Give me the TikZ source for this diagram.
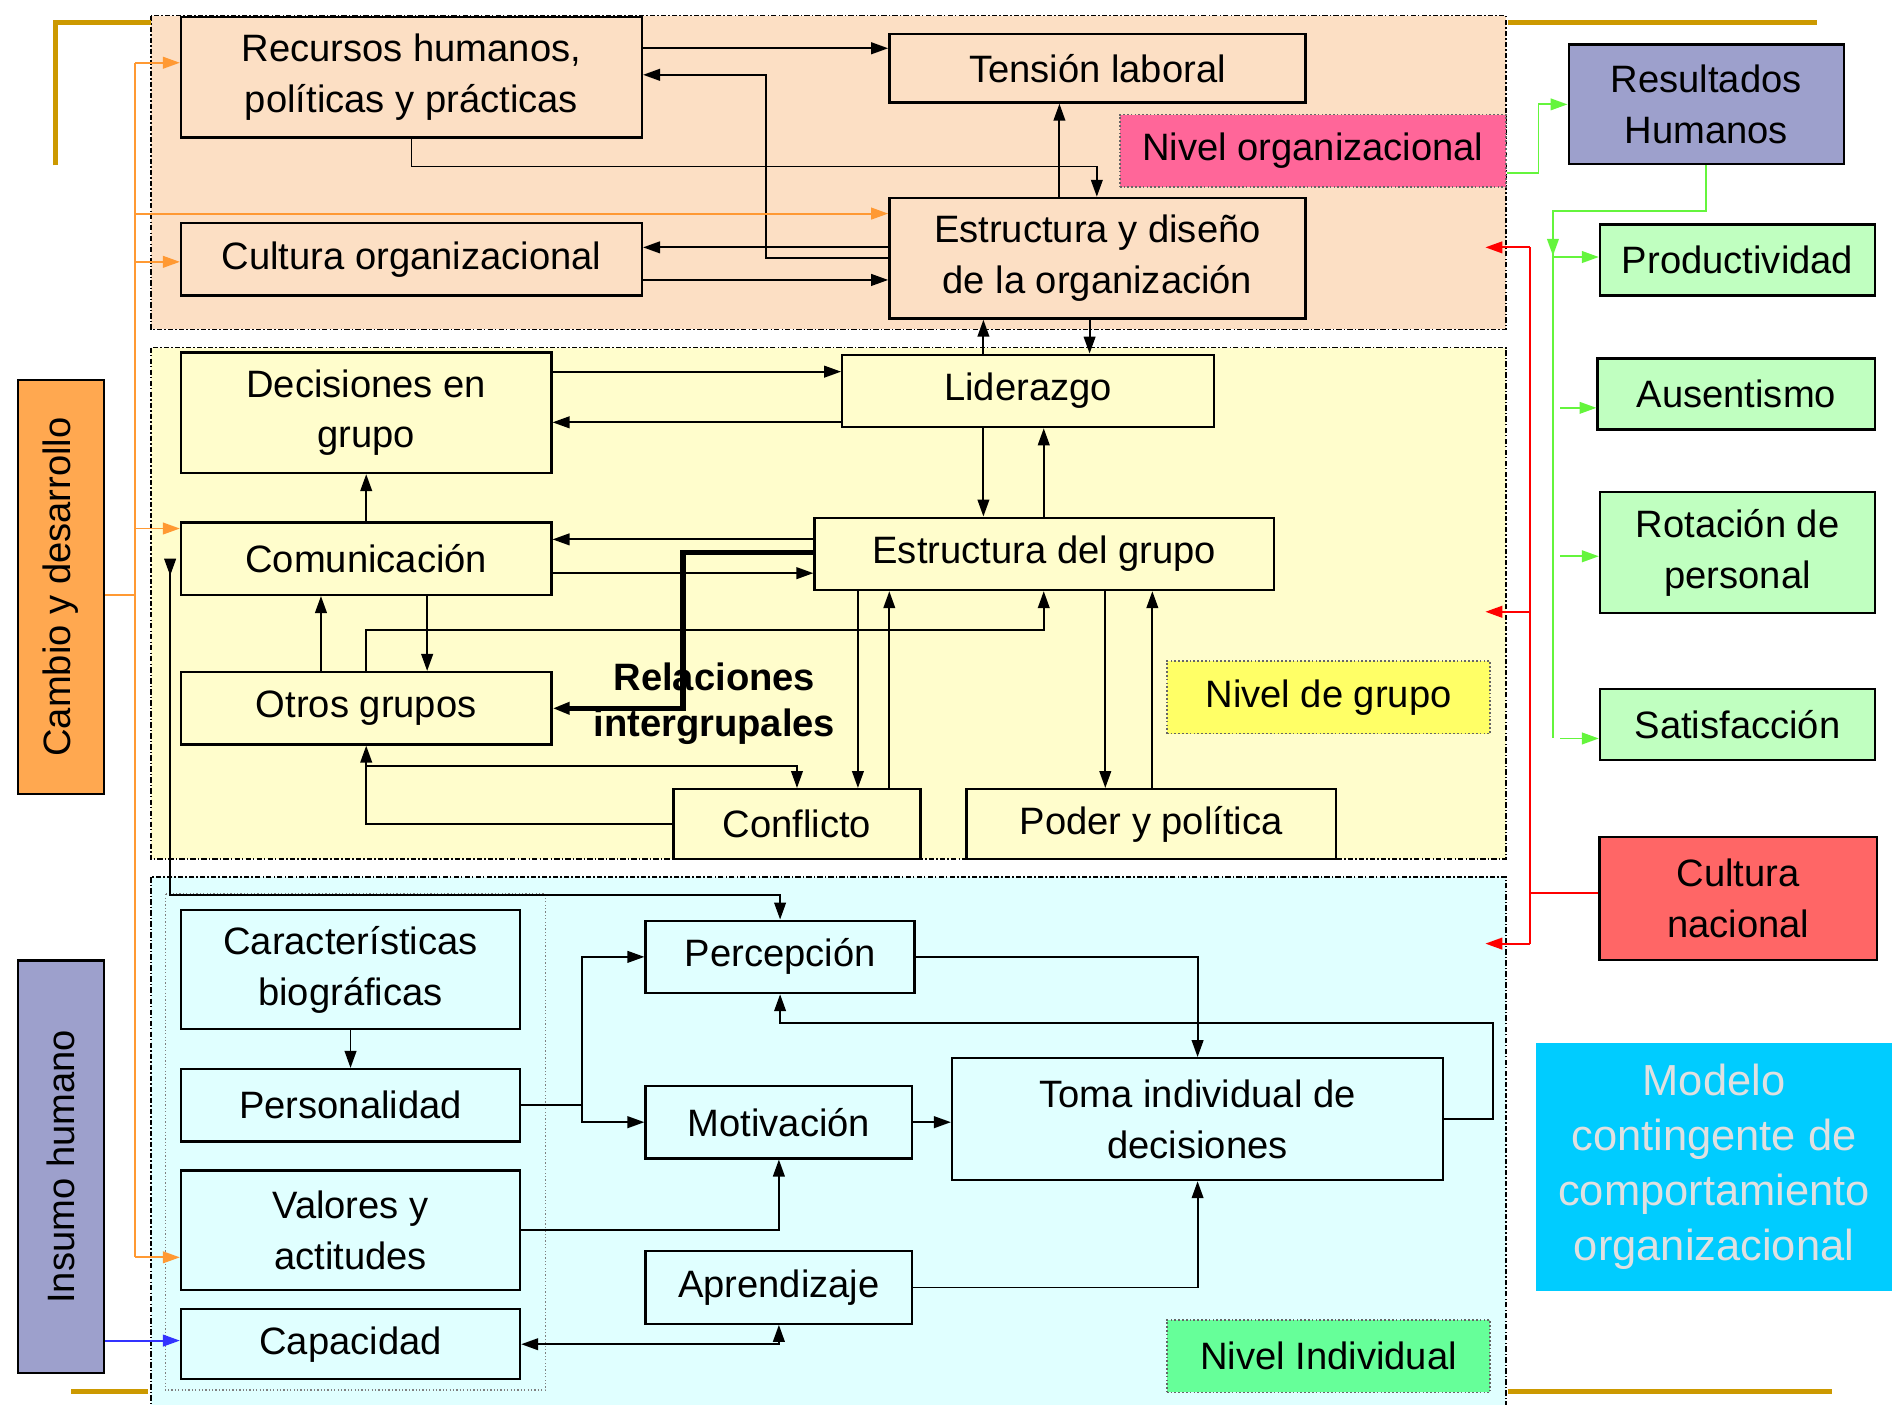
\documentclass[tikz,border=0pt]{standalone}
\usepackage{fontspec}
\setmainfont{Liberation Sans}
\usetikzlibrary{arrows.meta}
\definecolor{orgfill}{RGB}{252,223,196}
\definecolor{grpfill}{RGB}{255,253,204}
\definecolor{indfill}{RGB}{224,255,255}
\definecolor{pinkfill}{RGB}{255,102,153}
\definecolor{yelfill}{RGB}{255,255,102}
\definecolor{grnfill}{RGB}{102,255,153}
\definecolor{lavfill}{RGB}{157,160,204}
\definecolor{orafill}{RGB}{255,168,80}
\definecolor{resfill}{RGB}{192,255,192}
\definecolor{redfill}{RGB}{255,102,102}
\definecolor{cyanfill}{RGB}{0,204,255}
\definecolor{oraline}{RGB}{255,153,51}
\definecolor{grnline}{RGB}{100,245,60}
\definecolor{goldline}{RGB}{204,153,0}

\begin{document}
\begin{tikzpicture}[x=0.02cm,y=-0.02cm,->,>={Triangle[length=8pt,width=5.5pt]},line width=0.9pt]
  \tikzstyle{box}=[draw,line width=1.1pt,inner sep=2pt,align=center,font=\fontsize{18}{24}\selectfont]
  \tikzstyle{orgbox}=[box,fill=orgfill]
  \tikzstyle{grpbox}=[box,fill=grpfill]
  \tikzstyle{indbox}=[box,fill=indfill]
  \tikzstyle{resbox}=[box,fill=resfill]
  \tikzstyle{levelbox}=[draw=black!60,densely dotted,line width=0.8pt,font=\fontsize{18}{24}\selectfont,minimum width=5.36cm,minimum height=1.2cm]
  \tikzstyle{region}=[-,draw=black,line width=0.7pt,dash pattern=on 2.5pt off 1pt on 0.7pt off 1pt]
  \tikzstyle{orange line}=[draw=oraline,line width=0.9pt]
  \tikzstyle{green line}=[draw=grnline,line width=0.9pt]
  \tikzstyle{red line}=[draw=red,line width=0.9pt]
  \tikzstyle{gold line}=[-,draw=goldline,line width=2.4pt]
  \useasboundingbox (0,0) rectangle (1568,1164);

  % levels
  \filldraw[region,fill=orgfill] (125,13) rectangle (1248,273);
  \filldraw[region,fill=grpfill] (125,288) rectangle (1248,712);
  \filldraw[region,fill=indfill] (125,727) rectangle (1248,1166);
  \draw[-,gray,densely dotted,line width=0.6pt] (137,741) rectangle (452,1152);

  \draw[gold line] (46,137) |- (125,19);
  \draw[gold line] (1250,19) -- (1506,19);
  \draw[gold line] (59,1153) -- (123,1153);
  \draw[gold line] (1250,1153) -- (1518,1153);

  % organizacional
  \node[orgbox,minimum width=7.64cm,minimum height=2cm] (O_1) at (341,64) {Recursos humanos,\\políticas y prácticas};
  \node[orgbox,minimum width=6.9cm,minimum height=1.14cm] (O_2) at (909.5,56.5) {Tensión laboral};
  \node[levelbox,fill=pinkfill,minimum width=6.4cm] (O_3) at (1088,125) {Nivel organizacional};
  \node[orgbox,minimum width=7.64cm,minimum height=1.2cm] (O_4) at (341,215) {Cultura organizacional};
  \node[orgbox,minimum width=6.9cm,minimum height=2cm] (O_5) at (909.5,214) {Estructura y diseño\\de la organización};

  % grupo
  \node[grpbox,minimum width=6.14cm,minimum height=2cm] (G_1) at (303.5,342) {Decisiones en\\grupo};
  \node[grpbox,minimum width=6.16cm,minimum height=1.2cm] (G_2) at (852,324) {Liderazgo};
  \node[grpbox,minimum width=6.14cm,minimum height=1.2cm] (G_3) at (303.5,463) {Comunicación};
  \node[grpbox,minimum width=7.62cm,minimum height=1.2cm] (G_4) at (865.5,459) {Estructura del grupo};
  \node[grpbox,minimum width=6.14cm,minimum height=1.2cm] (G_5) at (303.5,587) {Otros grupos};
  \node[grpbox,minimum width=4.1cm,minimum height=1.16cm] (G_6) at (660.5,683) {Conflicto};
  \node[grpbox,minimum width=6.12cm,minimum height=1.16cm] (G_7) at (954,683) {Poder y política};
  \node[levelbox,fill=yelfill] (G_8) at (1101,578) {Nivel de grupo};

  % individual
  \node[indbox,minimum width=5.62cm,minimum height=1.98cm] (I_1) at (290.5,803.5) {Características\\biográficas};
  \node[indbox,minimum width=5.62cm,minimum height=1.2cm] (I_2) at (290.5,916) {Personalidad};
  \node[indbox,minimum width=5.62cm,minimum height=1.98cm] (I_3) at (290.5,1019.5) {Valores y\\actitudes};
  \node[indbox,minimum width=5.62cm,minimum height=1.16cm] (I_4) at (290.5,1114) {Capacidad};
  \node[indbox,minimum width=4.46cm,minimum height=1.2cm] (I_5) at (646.5,793) {Percepción};
  \node[indbox,minimum width=4.42cm,minimum height=1.2cm] (I_6) at (645.5,930) {Motivación};
  \node[indbox,minimum width=4.42cm,minimum height=1.2cm] (I_7) at (645.5,1067) {Aprendizaje};
  \node[indbox,minimum width=8.14cm,minimum height=2.02cm] (I_8) at (992.5,927.5) {Toma individual de\\decisiones};
  \node[levelbox,fill=grnfill] (I_9) at (1101,1124) {Nivel Individual};

  % lados
  \node[box,fill=orafill,minimum width=1.42cm,minimum height=6.86cm] (L_1) at (50.5,486.5) {\rotatebox{90}{Cambio y desarrollo}};
  \node[box,fill=lavfill,minimum width=1.42cm,minimum height=6.84cm] (L_2) at (50.5,967) {\rotatebox{90}{Insumo humano}};
  \node[box,fill=lavfill,minimum width=4.56cm,minimum height=1.98cm] (R_1) at (1414,86.5) {Resultados\\Humanos};
  \node[resbox,minimum width=4.56cm,minimum height=1.18cm] (R_2) at (1440,215.5) {Productividad};
  \node[resbox,minimum width=4.6cm,minimum height=1.18cm] (R_3) at (1439,326.5) {Ausentismo};
  \node[resbox,minimum width=4.56cm,minimum height=2cm] (R_4) at (1440,458) {Rotación de\\personal};
  \node[resbox,minimum width=4.56cm,minimum height=1.18cm] (R_5) at (1440,600.5) {Satisfacción};
  \node[box,fill=redfill,minimum width=4.6cm,minimum height=2.04cm] (R_6) at (1440.5,744.5) {Cultura\\nacional};
  \node[fill=cyanfill,text=white!88!black,align=center,minimum width=5.9cm,minimum height=4.12cm,font=\fontsize{20.5}{26}\selectfont] (R_7) at (1420.5,967) {Modelo\\contingente de\\comportamiento\\organizacional};

  % conexiones organizacional
  \draw (O_1.east |- 0,40) -- (O_2.west |- 0,40);
  \draw (O_5.west |- 0,214) -| (635,62) -- (O_1.east |- 0,62);
  \draw (O_1.south) |- (909,138) -- (O_5.north -| 909,0);
  \draw (O_5.north -| 878,0) -- (O_2.south -| 878,0);
  \draw (O_5.west |- 0,205) -- (O_4.east |- 0,205);
  \draw (O_4.east |- 0,232) -- (O_5.west |- 0,232);

  % cambio y desarrollo
  \draw[orange line,-] (112,52) -- (112,1042);
  \draw[orange line,-] (L_1.east |- 0,493) -- (112,493);
  \draw[orange line] (112,52) -- (O_1.west |- 0,52);
  \draw[orange line] (112,177) -- (O_5.west |- 0,177);
  \draw[orange line] (112,217) -- (O_4.west |- 0,217);
  \draw[orange line] (112,438) -- (G_3.west |- 0,438);
  \draw[orange line] (112,1042) -- (I_3.west |- 0,1042);
  \draw[draw=blue!80,line width=0.9pt] (L_2.east |- 0,1111) -- (I_4.west |- 0,1111);

  % conexiones grupo
  \draw (O_5.south -| 903,0) -- (G_2.north -| 903,0);
  \draw (G_2.north -| 815,0) -- (O_5.south -| 815,0);
  \draw (G_1.east |- 0,308) -- (G_2.west |- 0,308);
  \draw (G_2.west |- 0,350) -- (G_1.east |- 0,350);
  \draw (G_3.north) -- (G_1.south);
  \draw (G_2.south -| 815,0) -- (G_4.north -| 815,0);
  \draw (G_4.north -| 865,0) -- (G_2.south -| 865,0);
  \draw (G_4.west |- 0,447) -- (G_3.east |- 0,447);
  \draw (G_3.east |- 0,475) -- (G_4.west |- 0,475);
  \draw[line width=2.4pt] (G_4.west |- 0,458) -| (566,587) -- (G_5.east |- 0,587);
  \node[font=\bfseries\fontsize{18}{21.5}\selectfont,align=center] (G_9) at (592,583) {Relaciones\\intergrupales};
  \draw (G_5.north -| 266,0) -- (G_3.south -| 266,0);
  \draw (G_3.south -| 354,0) -- (G_5.north -| 354,0);
  \draw (G_5.north) |- (865,522) -- (G_4.south -| 865,0);
  \draw (G_6.west) -| (G_5.south);
  \draw (G_5.south |- 0,635) -| (G_6.north);
  \draw (G_4.south -| 711,0) -- (G_6.north -| 711,0);
  \draw (G_6.north -| 737,0) -- (G_4.south -| 737,0);
  \draw (G_4.south -| 916,0) -- (G_7.north -| 916,0);
  \draw (G_7.north -| 955,0) -- (G_4.south -| 955,0);
  \draw[{Triangle[length=8pt,width=5.5pt,reversed]}-{Triangle[length=8pt,width=5.5pt]}] (141,463) |- (646.5,742) -- (I_5.north);

  % conexiones individual
  \coordinate (I_b) at (482,916);
  \draw (I_1.south) -- (I_2.north);
  \draw[-] (I_2.east) -- (I_b);
  \draw (I_b) |- (I_5.west);
  \draw (I_b) |- (I_6.west);
  \draw (I_3.east) -| (I_6.south);
  \draw[<->] (I_4.east) -| (I_7.south);
  \draw (I_5.east) -| (I_8.north);
  \draw (I_8.east) -| (1237,848) -| (I_5.south);
  \draw (I_6.east) -- (I_8.west |- I_6.east);
  \draw (I_7.east) -| (I_8.south);

  % resultados
  \draw[green line] (O_3.east |- 0,143) -| (1275,86.5) -- (R_1.west);
  \draw[green line,-] (R_1.south) |- (1287,175) -- (1287,612);
  \draw[green line] (1287,175) -- (1287,212);
  \draw[green line] (1287,213) -- (R_2.west |- 0,213);
  \draw[green line] (1293,338) -- (R_3.west |- 0,338);
  \draw[green line] (1293,461) -- (R_4.west |- 0,461);
  \draw[green line] (1293,612) -- (R_5.west |- 0,612);

  % cultura nacional
  \draw[red line,-] (R_6.west |- 0,740) -- (1268,740);
  \draw[red line,-] (1268,205) -- (1268,782);
  \draw[red line] (1268,205) -- (1231,205);
  \draw[red line] (1268,507) -- (1231,507);
  \draw[red line] (1268,782) -- (1231,782);
\end{tikzpicture}
\end{document}
